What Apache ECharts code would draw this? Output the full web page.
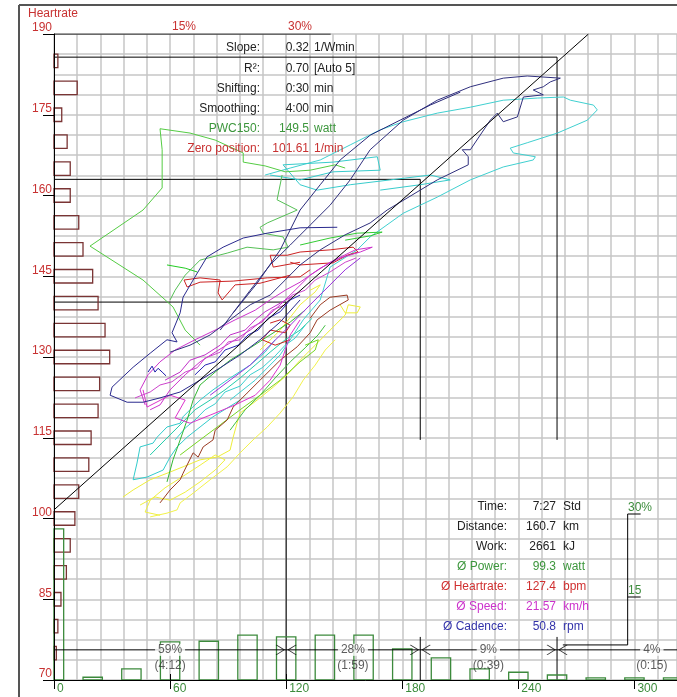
<!DOCTYPE html>
<html><head><meta charset="utf-8">
<script src="https://cdn.jsdelivr.net/npm/echarts@6/dist/echarts.min.js"></script>
<style>html,body{margin:0;padding:0;background:#fff}#c{width:677px;height:697px}</style>
</head><body><div id="c"></div>
<script>
// ---------- axes / ticks ----------
const hrMin = 70, hrMax = 190, hrStep = 15;
const powerMax = 322;
const powerTicks = [0, 60, 120, 180, 240, 300];
const hrPctTicks = [15, 30];
const pwPctTicks = [15, 30];

// ---------- heart-rate histogram (bpm bin centre, % of time) ----------
const hrBins = [75, 80, 85, 90, 95, 100, 105, 110, 115, 120, 125, 130, 135, 140, 145, 150, 155, 160, 165, 170, 175, 180, 185];
const hrPct  = [0.3, 0.5, 0.9, 1.6, 2.1, 2.7, 3.2, 4.5, 4.8, 5.7, 5.9, 7.2, 6.6, 5.7, 5.0, 3.75, 3.2, 2.1, 2.1, 1.7, 1.0, 3.0, 0.5];

// ---------- power histogram (watt bin centre, % of time) ----------
const pwBins = [0, 20, 40, 60, 80, 100, 120, 140, 160, 180, 200, 220, 240, 260, 280, 300, 320];
const pwPct  = [27.3, 0.5, 2.0, 6.9, 7.0, 8.1, 7.8, 8.1, 8.1, 5.6, 4.0, 2.0, 1.4, 0.9, 0.4, 0.4, 0.4];

// ---------- regression ----------
const slope = 0.32, zeroPos = 101.61;

// ---------- zones (watt, bpm) ----------
const zoneBounds = [[120, 140.2], [189.3, 163.0], [260, 185.7]];
const zoneLevel = 75.6;
const zoneCenters = [60, 154.5, 224.5, 309];
const zonePct = ['59%', '28%', '9%', '4%'];
const zoneTime = ['(4:12)', '(1:59)', '(0:39)', '(0:15)'];
// statistics panel covers this watt / bpm window
const panelWatt = [171, 296.5];
const panelHr = [78.0, 114.6];

// ---------- stats texts ----------
const topLabels = ['Slope:', 'R²:', 'Shifting:', 'Smoothing:', 'PWC150:', 'Zero position:'];
const topValues = ['0.32', '0.70', '0:30', '4:00', '149.5', '101.61'];
const topUnits  = ['1/Wmin', '[Auto 5]', 'min', 'min', 'watt', '1/min'];
const botLabels = ['Time:', 'Distance:', 'Work:', 'Ø Power:', 'Ø Heartrate:', 'Ø Speed:', 'Ø Cadence:'];
const botValues = ['7:27', '160.7', '2661', '99.3', '127.4', '21.57', '50.8'];
const botUnits  = ['Std', 'km', 'kJ', 'watt', 'bpm', 'km/h', 'rpm'];

// ---------- traces (watt, bpm) ----------
const yellowA = [[35.7,104.0],[40.9,105.3],[49.7,107.2],[58.4,108.4],[66.7,109.6],[75.5,110.9],[84.3,111.4],[91.0,112.7],[92.6,115.1],[94.6,117.7],[96.2,119.6],[105.0,122.0],[113.3,124.4],[120.5,126.7],[127.2,129.4],[135.0,132.2],[142.7,135.0],[150.5,137.8],[152.1,139.7],[158.3,139.3],[156.7,138.2],[150.5,138.2],[147.9,139.7]];
const yellowB = [[49.7,100.3],[58.4,101.0],[63.6,101.6],[65.2,102.9],[71.9,104.7],[80.7,107.2],[89.5,109.6],[96.2,112.2],[102.9,114.6],[110.2,117.0],[116.9,119.6],[123.6,122.6],[128.8,125.7],[135.0,128.5],[140.2,131.3],[145.3,133.2]];
const yellowC = [[106.5,131.3],[116.9,135.0],[127.2,139.7],[135.0,142.1],[137.6,143.4],[132.4,142.4]];
const yellowLoop = [[44.5,102.5],[52.2,104.0],[60.0,103.4],[67.8,104.9],[75.5,106.8],[83.3,109.0],[88.4,110.9],[83.3,111.8],[75.5,109.9],[67.8,108.1],[57.4,105.7],[49.7,103.4],[47.1,101.2],[54.8,100.6]];
const cyanLong = [[91.0,122.0],[104.0,125.7],[116.9,130.4],[128.8,136.9],[137.6,140.6],[142.7,146.7],[156.7,149.9],[163.4,152.3],[180.5,156.7],[198.1,159.7],[215.2,162.9],[232.2,165.3],[247.7,166.6],[248.8,167.2],[237.4,167.9],[235.8,168.8],[244.6,169.8],[260.2,171.6],[275.7,174.0],[280.8,175.9],[278.8,176.8],[266.9,177.7],[263.3,178.3],[249.8,178.1],[232.2,177.7],[215.2,176.4],[198.1,175.3],[180.5,173.7],[168.6,172.2],[153.1,169.4],[137.6,166.6],[122.1,165.1],[109.1,163.8]];
const cyanScribble = [[111.7,163.8],[127.2,162.9],[144.3,164.4],[168.6,164.7],[167.1,167.2],[144.3,166.2],[118.4,165.7],[127.2,162.0],[136.0,161.0],[153.1,162.0],[173.8,162.9],[194.5,163.8],[204.8,162.9],[189.3,162.0],[168.6,161.0]];
const cyanLow = [[96.2,122.0],[82.2,118.9],[75.5,117.0],[68.8,115.1],[63.6,113.3],[60.0,111.4],[56.4,109.0],[48.1,107.7],[40.9,107.2],[42.9,110.3],[44.5,113.3],[51.2,114.0],[53.3,115.1],[58.4,117.0],[65.2,117.7],[66.7,118.9],[70.3,120.2],[75.5,122.0],[82.2,123.9],[91.0,126.1],[101.4,128.5],[109.1,130.9],[114.3,133.2]];
const cyanMid = [[62.6,114.6],[67.8,116.8],[72.9,118.3],[78.1,120.2],[83.3,121.3],[88.4,123.5],[96.2,124.6],[101.4,126.7],[107.6,128.0],[114.3,130.2],[119.5,132.2],[124.6,133.5],[129.8,135.9]];
const teal = [[49.7,111.8],[57.4,114.6],[65.2,117.4],[72.9,120.2],[80.7,122.0],[88.4,123.9],[96.2,126.1],[104.0,128.5],[111.7,130.9],[119.5,133.2],[127.2,135.0],[133.4,137.2]];
const greenLoop = [[75.5,132.2],[67.8,135.0],[61.5,139.3],[46.0,144.3],[18.6,150.6],[46.0,157.3],[55.9,161.4],[55.9,168.5],[54.8,172.4],[70.3,171.6],[83.3,170.3],[97.8,167.9],[97.8,166.2],[109.1,165.5],[119.5,164.4],[132.4,164.7],[145.3,165.7],[150.5,165.1]];
const greenMid = [[117.9,163.8],[115.3,159.2],[125.7,157.3],[110.2,154.9],[106.5,154.1],[108.1,153.0],[118.4,152.3],[121.0,150.4],[113.3,149.9],[99.8,150.4],[89.5,149.3],[75.5,148.0],[67.8,145.2],[62.6,142.4],[60.0,140.6]];
const greenUpper = [[127.2,150.8],[142.7,152.1],[156.7,153.0],[169.6,153.2],[163.4,152.5],[150.5,151.7]];
const greenShort = [[58.4,147.1],[67.8,146.5],[74.0,145.8]];
const greenLow = [[58.4,106.8],[61.5,110.9],[65.2,114.6],[68.8,118.3],[71.9,122.0],[75.5,124.8],[83.3,127.2],[91.0,129.4],[101.4,131.7],[111.7,134.1],[122.1,136.5],[129.8,138.7]];
const greenLow2 = [[91.0,116.4],[98.8,120.2],[106.5,122.9],[114.3,126.1],[122.1,129.1],[129.8,131.7],[136.5,134.1],[140.2,135.9]];
const limeLow = [[65.2,111.8],[75.5,114.6],[85.9,117.4],[96.2,120.2],[106.5,122.9],[116.9,125.7],[127.2,129.1],[135.0,131.3],[136.6,133.2],[129.8,132.2]];
const redA = [[132.4,146.2],[127.2,144.9],[110.2,144.7],[92.6,144.1],[75.5,143.9],[68.8,143.0],[67.2,144.3],[75.5,144.7],[85.9,144.3],[84.8,141.9],[86.9,140.6],[93.6,143.4],[106.5,143.7],[122.1,145.2]];
const redB = [[127.2,147.6],[113.3,146.7],[111.7,148.9],[120.5,148.9],[127.2,149.5],[142.7,149.9],[154.6,150.4],[157.2,149.5],[151.5,148.9],[144.3,147.5],[127.2,147.1],[122.1,147.6]];
const redC = [[111.7,136.3],[116.9,136.9],[122.1,135.9],[119.5,134.5],[111.7,135.0],[107.6,133.2],[114.3,132.2],[122.1,133.2]];
const brown = [[54.8,102.9],[60.0,105.3],[65.2,107.2],[66.7,108.4],[71.9,112.2],[74.5,111.4],[77.1,113.3],[82.2,114.6],[83.3,116.4],[89.5,118.3],[92.6,120.7],[99.8,123.3],[106.5,125.7],[116.9,129.4],[125.7,131.9],[132.4,134.5],[136.0,136.9],[142.7,138.7],[152.1,140.6],[151.5,141.5],[142.7,141.1],[137.6,139.7],[132.4,137.2]];
const magentaA = [[47.1,121.1],[44.5,123.9],[48.6,126.7],[54.8,129.1],[62.6,131.3],[72.9,133.2],[83.3,135.0],[93.6,136.9],[104.0,138.7],[111.7,140.6],[119.5,142.4],[127.2,143.9],[137.6,146.5],[147.9,148.4],[158.3,149.5],[164.5,150.4],[155.7,149.9],[142.7,147.6],[132.4,145.2],[124.6,142.4],[116.9,139.7],[109.1,137.2],[101.4,135.0],[93.6,133.2],[83.3,130.9],[75.5,129.1],[67.8,126.7],[60.0,123.9],[54.8,121.1],[49.7,120.2]];
const magentaB = [[46.0,123.9],[48.1,120.7],[60.0,122.9],[67.8,122.0],[62.6,118.7],[70.3,117.7],[80.7,119.2],[93.6,121.1],[104.0,122.9],[111.7,125.7],[116.9,128.5],[119.5,131.3],[122.1,134.1],[127.2,136.9]];
const magentaC = [[57.4,125.7],[65.2,127.2],[70.3,129.4],[78.1,130.4],[85.9,132.2],[91.0,134.1],[98.8,135.0],[104.0,136.9],[109.1,138.4],[116.9,140.0],[123.1,141.3]];
const magentaD = [[41.9,122.4],[49.7,123.5],[54.8,124.8],[61.0,125.4],[67.8,127.2],[74.0,128.0],[78.1,129.8],[85.9,130.9],[90.0,132.8],[96.2,133.2],[101.4,135.4],[107.6,136.5],[112.7,138.7],[119.5,139.7],[123.1,141.5],[129.8,142.4],[135.0,144.3],[142.7,145.8],[150.5,147.6],[156.2,148.4]];
const purple = [[80.7,122.9],[91.0,125.7],[101.4,128.5],[111.7,132.2],[122.1,135.9],[132.4,139.7],[142.7,143.4],[150.5,146.2],[158.3,148.4]];
const navyUpper = [[60.0,130.9],[70.3,132.2],[80.7,134.1],[91.0,136.9],[101.4,139.7],[111.7,141.5],[119.5,144.3],[127.2,147.1],[137.6,149.9],[150.5,152.7],[163.4,154.9],[172.2,157.3],[189.3,161.0],[198.1,162.9],[214.1,165.7],[214.1,167.2],[211.0,168.5],[215.2,168.5],[225.5,174.0],[229.1,175.3],[232.2,173.7],[239.5,174.6],[242.6,178.3],[252.9,178.7],[247.7,179.6],[252.9,180.2],[256.5,181.1],[261.7,181.8],[244.6,182.2],[232.2,181.8],[215.2,180.2],[198.1,177.7],[180.5,174.0],[163.4,168.5],[153.1,162.9],[142.7,158.2],[132.4,154.5],[122.1,150.8],[111.7,147.1],[101.4,142.4],[93.6,138.7],[85.9,135.0]];
const navyMid = [[92.6,138.2],[105.0,143.7],[116.9,149.9],[127.2,157.3],[137.6,162.0],[147.9,166.6],[163.4,171.2],[178.9,174.0],[194.5,176.8],[210.0,179.2]];
const navyLoop = [[146.4,154.1],[127.2,154.0],[110.2,153.0],[97.8,152.1],[87.4,150.4],[79.1,148.6],[71.9,144.3],[66.7,141.1],[65.2,138.2],[61.0,134.5],[63.6,132.8],[58.4,133.2],[49.7,130.7],[40.9,128.1],[30.0,124.4],[29.0,122.9],[37.8,121.6],[46.0,121.6],[54.8,122.4],[65.2,123.5],[75.5,125.7],[85.9,128.0],[96.2,130.4],[106.5,133.2],[116.9,136.5],[127.2,140.6]];
const blueMid = [[72.9,126.7],[78.1,128.5],[83.3,129.1],[88.4,131.3],[95.2,132.2],[100.3,134.1],[105.5,135.0],[110.7,137.2],[116.9,138.4],[122.1,140.6],[127.2,141.5]];
const navyScribble = [[48.6,127.2],[50.7,128.3],[52.2,127.2],[53.8,127.9],[55.9,127.2],[57.9,126.5]];

const traces = [
  ['yellowA', yellowA, '#eeee3a'], ['yellowB', yellowB, '#f2f24a'], ['yellowC', yellowC, '#eeee3a'], ['yellowLoop', yellowLoop, '#f0f040'],
  ['cyanLow', cyanLow, '#33cccc'], ['cyanMid', cyanMid, '#3ad0d0'], ['teal', teal, '#22ccaa'], ['cyanLong', cyanLong, '#40d0d0'], ['cyanScribble', cyanScribble, '#38cccc'],
  ['greenLow', greenLow, '#33b833'], ['greenLow2', greenLow2, '#44c044'], ['limeLow', limeLow, '#77d622'],
  ['greenLoop', greenLoop, '#55cc44'], ['greenMid', greenMid, '#55c055'], ['greenUpper', greenUpper, '#33cc33'], ['greenShort', greenShort, '#22cc22'],
  ['brown', brown, '#9a3a22'], ['redA', redA, '#cc2222'], ['redB', redB, '#cc2222'], ['redC', redC, '#cc2222'],
  ['magentaA', magentaA, '#cc33cc'], ['magentaB', magentaB, '#dd33cc'], ['magentaC', magentaC, '#c030c8'], ['magentaD', magentaD, '#cc44cc'], ['purple', purple, '#9933dd'],
  ['navyLoop', navyLoop, '#2a2a8e'], ['navyMid', navyMid, '#2a2a7a'], ['navyUpper', navyUpper, '#30307e'], ['blueMid', blueMid, '#2525b5'], ['navyScribble', navyScribble, '#1a1aaa']
];

const FONT = '"Liberation Sans", Arial, sans-serif';
const red = '#c83232', green = '#3c8c3c';

const chart = echarts.init(document.getElementById('c'));

const lineSeries = (name, data, color, z, w) => ({
  type: 'line', name, data, xAxisIndex: 0, yAxisIndex: 0,
  symbol: 'none', showSymbol: false, silent: true, z: z,
  lineStyle: { color, width: w || 1 }
});

const series = [];
traces.forEach(t => series.push(lineSeries(t[0], t[1], t[2], 6, 1)));
// regression line
series.push(lineSeries('regression', [[0, zeroPos], [(hrMax - zeroPos) / slope, hrMax]], '#000', 6, 1));
// zone crosshairs (vertical part interrupted by the statistics panel)
zoneBounds.forEach((b, i) => {
  const [w, h] = b;
  if (w >= panelWatt[0] && w <= panelWatt[1]) {
    series.push(lineSeries('zoneA' + i, [[0, h], [w, h], [w, panelHr[1]]], '#000', 4, 1));
    series.push(lineSeries('zoneB' + i, [[w, panelHr[0]], [w, hrMin]], '#000', 4, 1));
  } else {
    series.push(lineSeries('zone' + i, [[0, h], [w, h], [w, hrMin]], '#000', 4, 1));
  }
});
// zone level line
series.push(lineSeries('zoneLevel', [[0, zoneLevel], [powerMax, zoneLevel]], '#000', 6, 1));
// top black axis segment
series.push(lineSeries('topAxis', [[0, hrMax], [143, hrMax]], '#000', 7, 1.2));
// arrows at zone borders
series.push({
  type: 'scatter', xAxisIndex: 0, yAxisIndex: 0, z: 7, silent: true,
  data: zoneBounds.map(b => [b[0], zoneLevel]),
  symbol: 'path://M0,0L8,5L0,10M20,0L12,5L20,10', symbolSize: [20, 10],
  itemStyle: { color: 'none', borderColor: '#000', borderWidth: 1 }
});
// zone labels
series.push({
  type: 'scatter', xAxisIndex: 0, yAxisIndex: 0, z: 9, silent: true,
  data: zoneCenters.map(c => [c, zoneLevel]), symbolSize: 0,
  label: {
    show: true, position: 'inside', offset: [0, 8],
    formatter: p => '{a|' + zonePct[p.dataIndex] + '}\n{b|' + zoneTime[p.dataIndex] + '}',
    rich: {
      a: { fontFamily: FONT, fontSize: 12, color: '#333', backgroundColor: '#fff', padding: [0, 3], lineHeight: 16, align: 'center' },
      b: { fontFamily: FONT, fontSize: 12, color: '#333', lineHeight: 16, align: 'center' }
    }
  }
});
// heart-rate histogram (horizontal bars)
series.push({
  type: 'custom', xAxisIndex: 1, yAxisIndex: 0, z: 6, silent: true,
  data: hrBins.map((b, i) => [hrPct[i], b]),
  renderItem: (params, api) => {
    const p = api.value(0), h = api.value(1);
    const a = api.coord([0, h - 1.25]), b = api.coord([p, h + 1.25]);
    return { type: 'rect', shape: { x: a[0], y: b[1], width: b[0] - a[0], height: a[1] - b[1] },
      style: { fill: 'none', stroke: '#7a3434', lineWidth: 1.3 } };
  }
});
// power histogram (vertical bars)
series.push({
  type: 'custom', xAxisIndex: 0, yAxisIndex: 1, z: 6, silent: true,
  data: pwBins.map((b, i) => [b, pwPct[i]]),
  renderItem: (params, api) => {
    const w = api.value(0), p = api.value(1);
    const a = api.coord([Math.max(0, w - 5), 0]), b = api.coord([w + 5, p]);
    return { type: 'rect', shape: { x: a[0], y: b[1], width: b[0] - a[0], height: a[1] - b[1] },
      style: { fill: 'none', stroke: '#3c8a3c', lineWidth: 1.3 } };
  }
});

const graphic = [
  { type: 'line', z: 10, shape: { x1: 19, y1: 5, x2: 19, y2: 697 }, style: { stroke: '#555', lineWidth: 2 } },
  { type: 'line', z: 10, shape: { x1: 19, y1: 5, x2: 677, y2: 5 }, style: { stroke: '#555', lineWidth: 2 } },
  { type: 'text', z: 10, x: 28, y: 14, style: { text: 'Heartrate', font: '12px ' + FONT, fill: red, textAlign: 'left', textVerticalAlign: 'middle' } }
];
const topColors = ['#222', '#222', '#222', '#222', '#3c963c', '#c83232'];
topLabels.forEach((t, i) => {
  const y = 48 + i * 20.2;
  graphic.push({ type: 'text', z: 10, x: 260, y, style: { text: t, font: '12px ' + FONT, fill: topColors[i], textAlign: 'right', textVerticalAlign: 'middle' } });
  graphic.push({ type: 'text', z: 10, x: 309, y, style: { text: topValues[i], font: '12px ' + FONT, fill: topColors[i], textAlign: 'right', textVerticalAlign: 'middle' } });
  graphic.push({ type: 'text', z: 10, x: 314, y, style: { text: topUnits[i], font: '12px ' + FONT, fill: topColors[i], textAlign: 'left', textVerticalAlign: 'middle' } });
});
const botColors = ['#222', '#222', '#222', '#3c963c', '#d03030', '#cc33cc', '#3333aa'];
botLabels.forEach((t, i) => {
  const y = 507 + i * 20;
  graphic.push({ type: 'text', z: 10, x: 507, y, style: { text: t, font: '12px ' + FONT, fill: botColors[i], textAlign: 'right', textVerticalAlign: 'middle' } });
  graphic.push({ type: 'text', z: 10, x: 556, y, style: { text: botValues[i], font: '12px ' + FONT, fill: botColors[i], textAlign: 'right', textVerticalAlign: 'middle' } });
  graphic.push({ type: 'text', z: 10, x: 563, y, style: { text: botUnits[i], font: '12px ' + FONT, fill: botColors[i], textAlign: 'left', textVerticalAlign: 'middle' } });
});

const gridLine = { show: true, lineStyle: { color: '#c6c6c6', width: 1.5 } };

chart.setOption({
  animation: false,
  backgroundColor: '#fff',
  textStyle: { fontFamily: FONT },
  grid: { left: 54, top: 34, right: 0, bottom: 17, containLabel: false },
  xAxis: [
    { type: 'value', position: 'bottom', min: 0, max: powerMax, interval: 60, z: 7,
      axisLine: { show: true, lineStyle: { color: '#000', width: 1 } },
      axisTick: { show: true, length: 9, customValues: powerTicks, lineStyle: { color: '#000' } },
      axisLabel: { show: true, customValues: powerTicks, color: green, fontSize: 12, align: 'left', margin: 3, padding: [0, 0, 0, 3], fontFamily: FONT },
      splitLine: { show: false } },
    { type: 'value', position: 'top', min: 0, max: 623 / 116 * 15, z: 7,
      axisLine: { show: false },
      axisTick: { show: true, length: 6, customValues: hrPctTicks, lineStyle: { color: '#000' } },
      axisLabel: { show: true, customValues: hrPctTicks, formatter: v => v + '%', color: red, fontSize: 12, align: 'left', verticalAlign: 'bottom', margin: 1, padding: [0, 0, 0, 2], fontFamily: FONT },
      splitLine: { show: false } },
    { type: 'value', position: 'bottom', min: 0, max: powerMax / 12, interval: 1, z: 1,
      axisLine: { show: false }, axisTick: { show: false }, axisLabel: { show: false }, splitLine: gridLine }
  ],
  yAxis: [
    { type: 'value', position: 'left', min: hrMin, max: hrMax, interval: hrStep, z: 7,
      axisLine: { show: true, lineStyle: { color: '#000', width: 1 } },
      axisTick: { show: true, length: 11, lineStyle: { color: '#000' } },
      axisLabel: { show: true, color: red, fontSize: 12, verticalAlign: 'bottom', margin: 2, fontFamily: FONT },
      splitLine: { show: false } },
    { type: 'value', position: 'right', offset: -50, min: 0, max: 646 / 83 * 15, z: 8,
      axisLine: { show: false },
      axisTick: { show: false },
      axisLabel: { show: true, customValues: pwPctTicks, formatter: v => v === 30 ? '30%' : '15', color: green, fontSize: 12, align: 'left', verticalAlign: 'bottom', margin: 1, fontFamily: FONT },
      splitLine: { show: false } },
    { type: 'value', position: 'left', min: 0, max: 32, interval: 1, z: 1,
      axisLine: { show: false }, axisTick: { show: false }, axisLabel: { show: false }, splitLine: gridLine }
  ],
  graphic: { elements: graphic },
  series
});

// right-hand percentage axis of the power histogram: ticks + axis line fragment
const axX = chart.convertToPixel({ xAxisIndex: 0 }, 296.5);
const y30 = chart.convertToPixel({ yAxisIndex: 1 }, 30);
const y15 = chart.convertToPixel({ yAxisIndex: 1 }, 15);
const yPanelBottom = chart.convertToPixel({ yAxisIndex: 0 }, panelHr[0]) + 8;
const xStd = chart.convertToPixel({ xAxisIndex: 0 }, 263);
const extra = graphic.concat([
  { type: 'line', z: 8, shape: { x1: axX, y1: y30, x2: axX, y2: yPanelBottom }, style: { stroke: '#000', lineWidth: 1 } },
  { type: 'line', z: 8, shape: { x1: xStd, y1: yPanelBottom, x2: axX, y2: yPanelBottom }, style: { stroke: '#000', lineWidth: 1 } },
  { type: 'line', z: 8, shape: { x1: axX, y1: y30, x2: axX + 13, y2: y30 }, style: { stroke: '#000', lineWidth: 1 } },
  { type: 'line', z: 8, shape: { x1: axX, y1: y15, x2: axX + 13, y2: y15 }, style: { stroke: '#000', lineWidth: 1 } }
]);
chart.setOption({ graphic: { elements: extra } }, { replaceMerge: ['graphic'] });
</script>
</body></html>
